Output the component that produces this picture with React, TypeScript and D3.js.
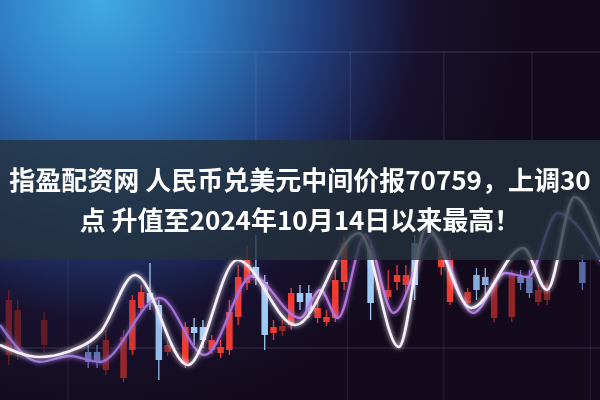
import * as d3 from 'd3';

// headline text
const titleLine1 = '指盈配资网 人民币兑美元中间价报70759，上调30';
const titleLine2 = '点 升值至2024年10月14日以来最高！';

// candlesticks (day index, level units)
const candleDays = [1, 2, 5, 10, 11, 12, 14, 15, 16, 17, 18, 19, 21, 22, 23, 24, 25, 26, 27, 28, 29, 30, 31, 32, 33, 34, 35, 36, 37, 38, 39, 42, 43, 44, 45, 46, 47, 50, 51, 53, 54, 55, 56, 58, 59, 60, 61, 62, 66];
const candleOpen = [45, 50, 55, 48, 48, 30, 22, 50, 92, 107, 95, 48, 37, 73, 73, 50, 47, 50, 83, 117, 133, 118, 67, 69, 75, 107, 107, 82, 78, 82, 118, 150, 110, 103, 118, 115, 157, 133, 98, 97, 125, 123, 82, 83, 123, 123, 98, 100, 138];
const candleClose = [100, 90, 80, 38, 38, 60, 63, 100, 108, 97, 40, 55, 73, 67, 60, 60, 53, 88, 123, 140, 122, 65, 73, 74, 107, 98, 90, 92, 83, 120, 157, 97, 118, 110, 125, 125, 115, 152, 140, 108, 110, 115, 117, 125, 117, 107, 110, 115, 117];
const candleHigh = [110, 100, 88, 55, 55, 70, 70, 105, 115, 137, 100, 60, 78, 82, 80, 65, 60, 100, 135, 155, 165, 125, 80, 80, 112, 115, 115, 100, 90, 130, 165, 160, 125, 130, 135, 135, 165, 160, 150, 112, 132, 132, 122, 130, 130, 130, 115, 120, 145];
const candleLow = [35, 40, 48, 32, 32, 25, 18, 45, 88, 90, 20, 44, 32, 55, 52, 46, 42, 45, 75, 110, 115, 50, 60, 64, 70, 90, 82, 77, 74, 78, 110, 80, 105, 100, 110, 105, 100, 125, 95, 92, 100, 105, 78, 78, 110, 102, 94, 95, 110];
const candleGlow = [0.25, 0.22, 0.18, 0.4, 0.4, 0.35, 0.5, 0.85, 1, 1, 0.9, 0.45, 1, 1, 1, 1, 1, 1, 1, 1, 1, 1, 1, 0.5, 1, 1, 1, 1, 1, 1, 1, 1, 0.5, 0.9, 1, 0.9, 1, 1, 1, 0.8, 0.8, 0.8, 0.5, 0.45, 0.45, 0.45, 0.4, 0.35, 0.35];

// moving-average style curves
const whiteDays = [0, 4.5, 7.6, 11.4, 15.3, 21.3, 26.9, 33.5, 40.7, 45.2, 48.3, 53.4, 59.3, 62, 65.1, 68.2];
const whiteLevels = [55, 43, 48, 68, 125, 35, 140, 75, 167, 53, 172, 92, 152, 110, 203, 153];
const purpleDays = [0, 4.5, 7.9, 11.3, 18.1, 23.2, 28.6, 34, 36.3, 38.3, 41.4, 44.6, 49, 53.6, 57.3, 59.8, 63.2, 68.2];
const purpleLevels = [75, 38, 44, 38, 102, 45, 124, 82, 110, 82, 165, 87, 165, 87, 127, 123, 187, 137];

// faint grid
const gridTopLevel = 348;
const gridBottomLevel = 52;
const gridTopDays = [29, 39.7, 50.3, 60.3];
const gridBottomDays = [7.7, 39.4, 50.3, 66.9];

const W = 600;
const H = 400;

export default function App() {
  const x = d3.scaleLinear().domain([0, 68]).range([0, W]);
  const y = d3.scaleLinear().domain([0, 400]).range([H, 0]);

  const redTone = d3.interpolateRgb('#3e1526', '#f03a30');
  const blueTone = d3.interpolateRgb('#35377c', '#9ccbf5');

  const line = d3.line<[number, number]>()
    .x(d => x(d[0]))
    .y(d => y(d[1]))
    .curve(d3.curveMonotoneX);

  const whitePath = line(whiteDays.map((d, i) => [d, whiteLevels[i]]));
  const purplePath = line(purpleDays.map((d, i) => [d, purpleLevels[i]]));

  const bodyW = 6.5;

  return (
    <svg width={W} height={H} style={{ position: 'fixed', left: 0, top: 0, display: 'block' }}>
      <defs>
        <radialGradient id="bg" gradientUnits="userSpaceOnUse" cx={100} cy={0} r={430}>
          <stop offset="0" stopColor="#40aae4" />
          <stop offset="0.25" stopColor="#2f7cc2" />
          <stop offset="0.5" stopColor="#22407f" />
          <stop offset="0.74" stopColor="#18122f" />
          <stop offset="1" stopColor="#130a1b" />
        </radialGradient>
        <linearGradient id="purple" x1="0" x2="1" y1="0" y2="0">
          <stop offset="0" stopColor="#8a6fd6" />
          <stop offset="0.5" stopColor="#b56fd8" />
          <stop offset="1" stopColor="#a27ce2" />
        </linearGradient>
        <filter id="glow" x="-5%" y="-20%" width="110%" height="140%">
          <feGaussianBlur stdDeviation="2.4" result="b" />
          <feMerge>
            <feMergeNode in="b" />
            <feMergeNode in="SourceGraphic" />
          </feMerge>
        </filter>
        <filter id="soft" x="-5%" y="-5%" width="110%" height="110%">
          <feGaussianBlur stdDeviation="0.6" />
        </filter>
      </defs>

      <rect x={0} y={0} width={W} height={H} fill="url(#bg)" />

      {/* grid */}
      <line x1={x(20)} x2={W} y1={y(gridTopLevel)} y2={y(gridTopLevel)} stroke="rgba(130,160,210,0.28)" strokeWidth={1.2} />
      {gridTopDays.map((d, i) => (
        <line key={'gt' + i} x1={x(d)} x2={x(d)} y1={y(gridTopLevel)} y2={y(260)} stroke="rgba(150,150,210,0.18)" strokeWidth={1.2} />
      ))}
      <line x1={0} x2={W} y1={y(gridBottomLevel)} y2={y(gridBottomLevel)} stroke="rgba(140,120,170,0.3)" strokeWidth={1.2} />
      {gridBottomDays.map((d, i) => (
        <line key={'gb' + i} x1={x(d)} x2={x(d)} y1={y(160)} y2={H} stroke="rgba(140,120,180,0.16)" strokeWidth={1.2} />
      ))}

      {/* candles */}
      <g filter="url(#soft)">
        {candleDays.map((d, i) => {
          const up = candleClose[i] >= candleOpen[i];
          const col = up ? redTone(candleGlow[i]) : blueTone(candleGlow[i]);
          const top = y(Math.max(candleOpen[i], candleClose[i]));
          const bot = y(Math.min(candleOpen[i], candleClose[i]));
          return (
            <g key={'c' + i}>
              <line x1={x(d)} x2={x(d)} y1={y(candleHigh[i])} y2={y(candleLow[i])} stroke={col} strokeWidth={1.3} />
              <rect x={x(d) - bodyW / 2} y={top} width={bodyW} height={Math.max(bot - top, 2)} fill={col} />
            </g>
          );
        })}
      </g>

      {/* curves */}
      <path d={purplePath ?? ''} fill="none" stroke="url(#purple)" strokeWidth={2.3} filter="url(#glow)" />
      <path d={whitePath ?? ''} fill="none" stroke="#f6eef8" strokeWidth={2.7} filter="url(#glow)" />

      {/* banner */}
      <rect x={0} y={140} width={W} height={120} fill="rgba(36,50,60,0.78)" />

      <g fontFamily="'Noto Sans CJK SC', 'Noto Sans', sans-serif" fontWeight={700} fontSize={26} fill="#ffffff" textAnchor="middle">
        <text x={W / 2} y={190}>{titleLine1}</text>
        <text x={W / 2} y={230}>{titleLine2}</text>
      </g>
    </svg>
  );
}
